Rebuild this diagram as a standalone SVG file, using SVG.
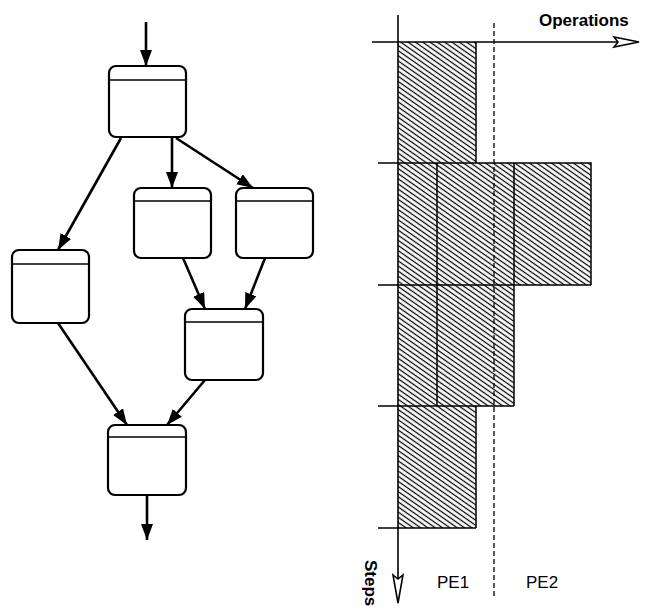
<svg xmlns="http://www.w3.org/2000/svg" width="645" height="610" viewBox="0 0 645 610">
  <defs>
    <style>
      .node rect { fill: #fff; stroke: #000; stroke-width: 2.2; }
      .node line { stroke: #000; stroke-width: 1.7; }
      .conn { stroke: #000; stroke-width: 2.6; fill: none; marker-end: url(#ah); }
      .edge { stroke: #000; stroke-width: 1.5; fill: none; }
      .axis { stroke: #000; stroke-width: 1.6; fill: none; }
      .hatch { fill: url(#hatch); stroke: none; }
      .lbl { font-family: "Liberation Sans", Arial, sans-serif; font-size: 17px; fill: #000; }
      .bold { font-weight: bold; }
    </style>
    <marker id="ah" markerUnits="userSpaceOnUse" markerWidth="18" markerHeight="14" refX="16" refY="6" orient="auto">
      <path d="M0,0 L16,6 L0,12 z" fill="#000"/>
    </marker>
    <pattern id="hatch" patternUnits="userSpaceOnUse" width="8" height="4.2" patternTransform="rotate(35)">
      <line x1="0" y1="2.1" x2="8" y2="2.1" stroke="#000" stroke-width="1.25"/>
    </pattern>
  </defs>

  <!-- Left: task graph -->
  <g id="node1" class="node">
    <rect x="109" y="66" width="77" height="71" rx="7"/>
    <line x1="109" y1="80" x2="186" y2="80"/>
  </g>
  <g id="node2" class="node">
    <rect x="134" y="188" width="77" height="70" rx="7"/>
    <line x1="134" y1="201" x2="211" y2="201"/>
  </g>
  <g id="node3" class="node">
    <rect x="236" y="188" width="77" height="70" rx="7"/>
    <line x1="236" y1="201" x2="313" y2="201"/>
  </g>
  <g id="node4" class="node">
    <rect x="12" y="250" width="77" height="73" rx="7"/>
    <line x1="12" y1="264" x2="89" y2="264"/>
  </g>
  <g id="node5" class="node">
    <rect x="185" y="309" width="78" height="71" rx="7"/>
    <line x1="185" y1="322" x2="263" y2="322"/>
  </g>
  <g id="node6" class="node">
    <rect x="108" y="425" width="78" height="70" rx="7"/>
    <line x1="108" y1="437" x2="186" y2="437"/>
  </g>

  <g id="connectors">
    <path class="conn" d="M146,22 L146,66"/>
    <path class="conn" d="M121,138 L58,250"/>
    <path class="conn" d="M172,138 L172,188"/>
    <path class="conn" d="M176,138 L253,188"/>
    <path class="conn" d="M183,258 L205,309"/>
    <path class="conn" d="M265,258 L245,309"/>
    <path class="conn" d="M58,323 L127,425"/>
    <path class="conn" d="M205,380 L167,425"/>
    <path class="conn" d="M147,495 L147,540"/>
  </g>

  <!-- Right: schedule chart -->
  <g id="chart">
    <path class="hatch" d="M398,42 H476 V163 H591 V285 H514 V406 H476 V528 H398 Z"/>
    <path class="edge" d="M476,42 V163 M378,163 H591 V285 M378,285 H591 M437,163 V406 M514,163 V406 M378,406 H514 M476,406 V528 M378,528 H476"/>
    <line x1="494" y1="23" x2="494" y2="598" stroke="#000" stroke-width="1.3" stroke-dasharray="5,3"/>
    <path class="axis" d="M398,15 V579"/>
    <path class="axis" d="M372,42 H618"/>
    <path d="M614,37 L639,42 L614,47 L618,42 Z" fill="#fff" stroke="#000" stroke-width="1.6"/>
    <path d="M393,575 L398,603 L403,575 L398,579 Z" fill="#fff" stroke="#000" stroke-width="1.6"/>
    <text class="lbl bold" x="539" y="26">Operations</text>
    <text class="lbl" x="437" y="588">PE1</text>
    <text class="lbl" x="526" y="588">PE2</text>
    <text class="lbl bold" transform="translate(365,560) rotate(90)">Steps</text>
  </g>
</svg>
